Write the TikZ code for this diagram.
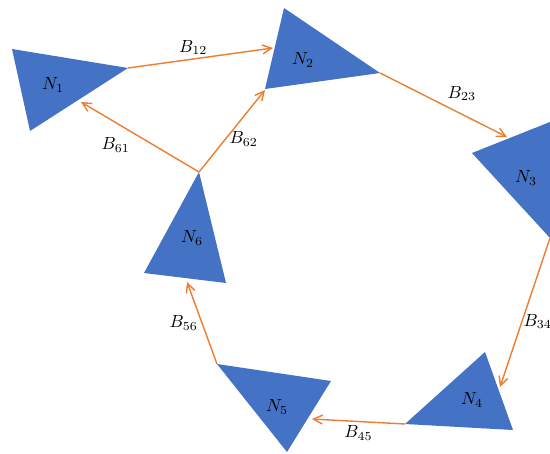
\documentclass[tikz,border=0pt]{standalone}
\usetikzlibrary{arrows.meta}
\usepackage{xcolor}
\definecolor{triblue}{RGB}{68,114,196}
\definecolor{branch}{RGB}{237,125,49}

\begin{document}
\begin{tikzpicture}[
    x=0.02cm, y=-0.02cm,
    tri/.style={fill=triblue},
    flow/.style={-{Straight Barb[length=1.8mm,width=1.8mm]}, line width=0.8pt, draw=branch},
    lbl/.style={font=\normalsize, inner sep=2pt},
    nlbl/.style={font=\normalsize, inner sep=0pt}
]
\useasboundingbox (0,0) rectangle (550,453);

% triangle corners
\coordinate (n1a) at (12,49);   \coordinate (n1b) at (128,68);  \coordinate (n1c) at (30,131);
\coordinate (n2a) at (284,8);   \coordinate (n2b) at (380,73);  \coordinate (n2c) at (265,89);
\coordinate (n3a) at (472,153); \coordinate (n3b) at (560,118); \coordinate (n3c) at (550,238);
\coordinate (n4a) at (485,352); \coordinate (n4b) at (405,424); \coordinate (n4c) at (513,430);
\coordinate (n5a) at (217,364); \coordinate (n5b) at (331,381); \coordinate (n5c) at (287,452);
\coordinate (n6a) at (199,172); \coordinate (n6b) at (144,273); \coordinate (n6c) at (226,283);

\fill[tri] (n1a) -- (n1b) -- (n1c) -- cycle;
\fill[tri] (n2a) -- (n2b) -- (n2c) -- cycle;
\fill[tri] (n3a) -- (n3b) -- (n3c) -- cycle;
\fill[tri] (n4a) -- (n4b) -- (n4c) -- cycle;
\fill[tri] (n5a) -- (n5b) -- (n5c) -- cycle;
\fill[tri] (n6a) -- (n6b) -- (n6c) -- cycle;

\node[nlbl] (N1) at (53,85)  {$N_1$};
\node[nlbl] (N2) at (303,60) {$N_2$};
\node[nlbl] (N3) at (526,178) {$N_3$};
\node[nlbl] (N4) at (472,400) {$N_4$};
\node[nlbl] (N5) at (277,407) {$N_5$};
\node[nlbl] (N6) at (192,238) {$N_6$};

% arrow tips on the target triangles
\coordinate (t12) at (273,48);
\coordinate (t61) at (81,102);
\coordinate (t62) at (265,90);
\coordinate (t23) at (507,137);
\coordinate (t34) at (500,387);
\coordinate (t45) at (312,419);
\coordinate (t56) at (187,282);

\draw[flow] (n1b) -- node[lbl, above, pos=0.45] {$B_{12}$} (t12);
\draw[flow] (n6a) -- node[lbl, below left, pos=0.55] {$B_{61}$} (t61);
\draw[flow] (n6a) -- node[lbl, right, pos=0.4] {$B_{62}$} (t62);
\draw[flow] (n2b) -- node[lbl, above right] {$B_{23}$} (t23);
\draw[flow] (n3c) -- node[lbl, right, inner sep=0.5pt, pos=0.56] {$B_{34}$} (t34);
\draw[flow] (n4b) -- node[lbl, below] {$B_{45}$} (t45);
\draw[flow] (n5a) -- node[lbl, left] {$B_{56}$} (t56);
\end{tikzpicture}
\end{document}
